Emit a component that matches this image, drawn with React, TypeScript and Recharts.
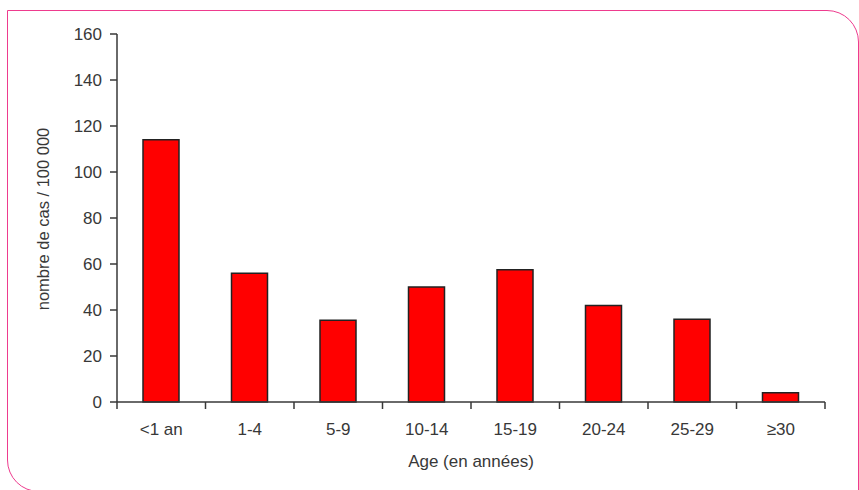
import React from "react";
import { Bar, BarChart, XAxis, YAxis } from "recharts";

const ageGroups = ["<1 an", "1-4", "5-9", "10-14", "15-19", "20-24", "25-29", "≥30"];
const casesPer100k = [114, 56, 35.5, 50, 57.5, 42, 36, 4];
const yTicks = [0, 20, 40, 60, 80, 100, 120, 140, 160];

const data = ageGroups.map((age, i) => ({ age, value: casesPer100k[i] }));

const W = 859;
const H = 490;
const AXIS_W = 117;
const RIGHT = 34;
const BAND = (W - AXIS_W - RIGHT) / ageGroups.length;
const TEXT = "#383838";
const FONT = "'Liberation Sans', Arial, sans-serif";

const AgeTick = (props: any) => {
  const { x, y, payload, index } = props;
  const last = index === ageGroups.length - 1;
  return (
    <g>
      <line x1={x - BAND / 2} x2={x - BAND / 2} y1={y - 8} y2={y - 1} stroke={TEXT} strokeWidth={1.5} />
      {last && (
        <line x1={x + BAND / 2} x2={x + BAND / 2} y1={y - 8} y2={y - 1} stroke={TEXT} strokeWidth={1.5} />
      )}
      <text x={x} y={y + 25} textAnchor="middle" fontSize={17} fill={TEXT} fontFamily={FONT}>
        {payload.value}
      </text>
    </g>
  );
};

export default function App() {
  return (
    <div style={{ position: "absolute", left: 0, top: 0, width: W, height: H, background: "#fff", overflow: "hidden" }}>
      <div
        style={{
          position: "absolute",
          left: 7,
          top: 10,
          width: 852,
          height: 482,
          boxSizing: "border-box",
          border: "1.5px solid #ee3b8e",
          borderRadius: "0 32px 0 32px",
        }}
      />
      <BarChart
        width={W}
        height={H}
        data={data}
        margin={{ top: 34, right: RIGHT, left: 0, bottom: 0 }}
        barSize={36}
        style={{ position: "absolute", left: 0, top: 0, fontFamily: FONT }}
      >
        <XAxis
          dataKey="age"
          height={88}
          axisLine={{ stroke: TEXT, strokeWidth: 1.5 }}
          tickLine={false}
          tick={<AgeTick />}
          interval={0}
          label={{
            content: () => (
              <text x={471} y={467} textAnchor="middle" fontSize={17} fill={TEXT} fontFamily={FONT}>
                Age (en années)
              </text>
            ),
          }}
        />
        <YAxis
          width={AXIS_W}
          domain={[0, 160]}
          ticks={yTicks}
          interval={0}
          tickSize={7}
          tickMargin={8}
          axisLine={{ stroke: TEXT, strokeWidth: 1.5 }}
          tickLine={{ stroke: TEXT, strokeWidth: 1.5 }}
          tick={{ fontSize: 17, fill: TEXT, fontFamily: FONT }}
          label={{
            content: () => (
              <text
                x={43}
                y={219}
                transform="rotate(-90 43 219)"
                textAnchor="middle"
                dominantBaseline="central"
                fontSize={16.5}
                fill={TEXT}
                fontFamily={FONT}
              >
                nombre de cas / 100 000
              </text>
            ),
          }}
        />
        <Bar dataKey="value" fill="#ff0000" stroke="#222" strokeWidth={1.5} isAnimationActive={false} />
      </BarChart>
    </div>
  );
}
